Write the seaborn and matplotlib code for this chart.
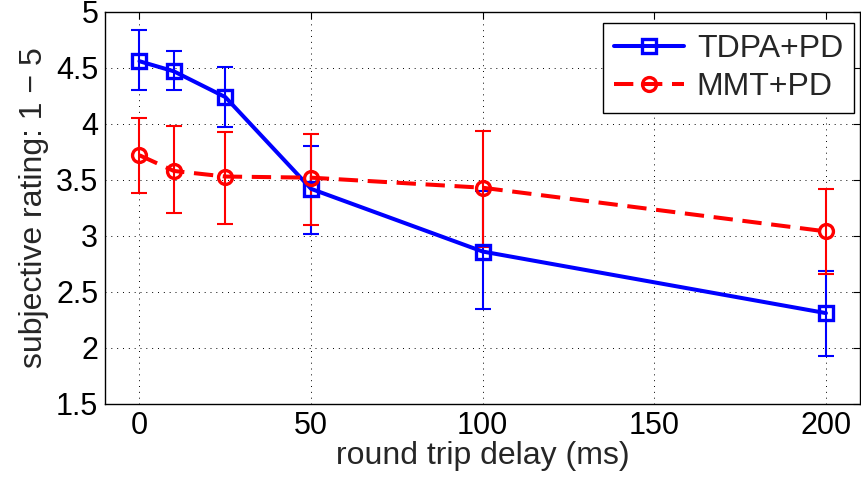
import numpy as np
import pandas as pd
import matplotlib
matplotlib.use("Agg")
import matplotlib.pyplot as plt
from matplotlib.lines import Line2D
import seaborn as sns

# Round trip delays (ms)
delay = [0, 10, 25, 50, 100, 200]

# TDPA+PD mean ratings and error bar extents
tdpa_mean = [4.56, 4.47, 4.24, 3.42, 2.86, 2.31]
tdpa_low = [4.30, 4.30, 3.97, 3.02, 2.35, 1.93]
tdpa_high = [4.84, 4.65, 4.51, 3.80, 3.40, 2.69]

# MMT+PD mean ratings and error bar extents
mmt_mean = [3.72, 3.58, 3.53, 3.52, 3.43, 3.04]
mmt_low = [3.38, 3.20, 3.11, 3.10, 2.90, 2.66]
mmt_high = [4.05, 3.98, 3.93, 3.91, 3.94, 3.42]

series_names = ["TDPA+PD", "MMT+PD"]
x_ticks = [0, 50, 100, 150, 200]
y_ticks = [1.5, 2, 2.5, 3, 3.5, 4, 4.5, 5]
x_label = "round trip delay (ms)"
y_label = "subjective rating: 1 \u2212 5"

sns.set_style("white")
plt.rcParams["font.family"] = ["Liberation Sans", "DejaVu Sans"]
plt.rcParams["xtick.direction"] = "in"
plt.rcParams["ytick.direction"] = "in"

FS_TICK = 22
FS_LABEL = 23
LW = 2.9
MS = 10
MEW = 2.4

fig = plt.figure(figsize=(8.62, 4.79), dpi=100)
ax = fig.add_axes([0.122, 0.157, 0.876, 0.818])

styles = [
    (series_names[0], tdpa_mean, tdpa_low, tdpa_high, "#0000ff", "s", "-"),
    (series_names[1], mmt_mean, mmt_low, mmt_high, "#ff0000", "o", (0, (4.8, 2.4))),
]

handles = []
for name, mean, lo, hi, col, mk, ls in styles:
    m = np.array(mean)
    yerr = np.vstack([m - np.array(lo), np.array(hi) - m])
    ax.errorbar(delay, m, yerr=yerr, fmt="none", ecolor=col,
                elinewidth=1.5, capsize=6, capthick=1.5, zorder=2)
    d = pd.DataFrame({"delay": delay, "rating": mean})
    n_before = len(ax.lines)
    sns.lineplot(data=d, x="delay", y="rating", color=col, ax=ax,
                 linewidth=LW, zorder=3)
    line = ax.lines[n_before]
    line.set_linestyle(ls)
    line.set_marker(mk)
    line.set_markersize(MS)
    line.set_markerfacecolor("none")
    line.set_markeredgecolor(col)
    line.set_markeredgewidth(MEW)
    handles.append(Line2D([], [], color=col, linestyle=ls, linewidth=LW,
                          marker=mk, markersize=MS, markerfacecolor="none",
                          markeredgecolor=col, markeredgewidth=MEW))

ax.set_xlim(-10, 210)
ax.set_ylim(1.5, 5)
ax.set_xticks(x_ticks)
ax.set_yticks(y_ticks)
ax.set_xticklabels([str(t) for t in x_ticks])
ax.set_yticklabels([f"{t:g}" for t in y_ticks])
ax.tick_params(axis="both", labelsize=FS_TICK, length=5, width=0.8,
               top=True, right=True, colors="black", pad=5)
ax.set_xlabel(x_label, fontsize=FS_LABEL, labelpad=0)
ax.set_ylabel(y_label, fontsize=FS_LABEL, labelpad=5)

ax.grid(True, linestyle=(0, (1, 5)), color="black", linewidth=0.7)
for sp in ax.spines.values():
    sp.set_visible(True)
    sp.set_color("black")
    sp.set_linewidth(1.0)

leg = ax.legend(handles=handles, labels=series_names, loc="upper right",
                fontsize=FS_LABEL, frameon=True, fancybox=False, framealpha=1,
                edgecolor="black", borderpad=0.35, labelspacing=0.25,
                handlelength=2.2, handletextpad=0.4, borderaxespad=0,
                bbox_to_anchor=(0.992, 0.972))
leg.get_frame().set_linewidth(1.0)

fig.savefig("out.png", dpi=100)
